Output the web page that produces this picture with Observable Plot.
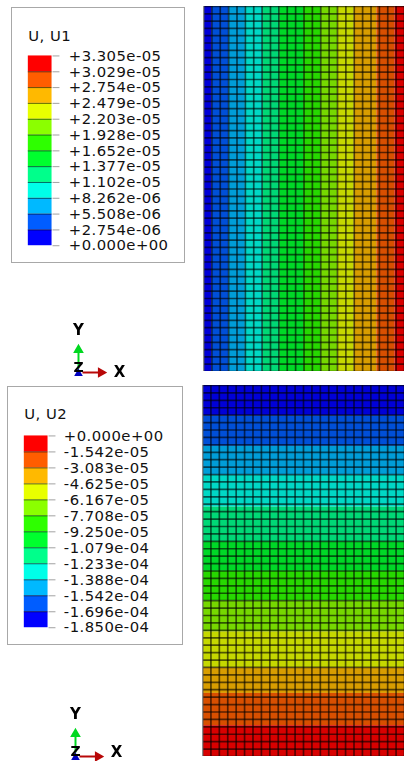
<!DOCTYPE html>
<html>
<head>
<meta charset="utf-8">
<script src="https://cdn.jsdelivr.net/npm/d3@7"></script>
<script src="https://cdn.jsdelivr.net/npm/@observablehq/plot@0.6"></script>
<style>
html,body{margin:0;padding:0;background:#fff;overflow:hidden}
#page{position:relative;width:404px;height:761px;overflow:hidden;filter:blur(0.4px)}
#page svg{position:absolute;display:block;max-width:none}
#page svg.legend text{letter-spacing:0.45px}
</style>
</head>
<body>
<div id="page"></div>
<script>
// contour palette, lowest level first
const legendColors = ["#0000ff","#005dff","#00b9ff","#00ffe8","#00ff8b","#00ff2e","#2eff00","#8bff00","#e8ff00","#ffb900","#ff5d00","#ff0000"];
const meshColors   = ["#0000d8","#004fd8","#009dd8","#00d8c5","#00d876","#00d827","#27d800","#76d800","#c5d800","#d89d00","#d84f00","#d80000"];

// U1 legend
const u1Values = [0,2.754e-6,5.508e-6,8.262e-6,1.102e-5,1.377e-5,1.652e-5,1.928e-5,2.203e-5,2.479e-5,2.754e-5,3.029e-5,3.305e-5];
const u1Labels = ["+0.000e+00","+2.754e-06","+5.508e-06","+8.262e-06","+1.102e-05","+1.377e-05","+1.652e-05","+1.928e-05","+2.203e-05","+2.479e-05","+2.754e-05","+3.029e-05","+3.305e-05"];
// U2 legend
const u2Values = [-1.850e-4,-1.696e-4,-1.542e-4,-1.388e-4,-1.233e-4,-1.079e-4,-9.250e-5,-7.708e-5,-6.167e-5,-4.625e-5,-3.083e-5,-1.542e-5,0];
const u2Labels = ["-1.850e-04","-1.696e-04","-1.542e-04","-1.388e-04","-1.233e-04","-1.079e-04","-9.250e-05","-7.708e-05","-6.167e-05","-4.625e-05","-3.083e-05","-1.542e-05","+0.000e+00"];

// contour band edges read off the meshes, in element units
const u1ColumnEdges = [0,1.03,3.02,5,7.1,9.1,11.95,14.05,16.03,18,20.7,22.86,24];
const u2RowEdges = [0,4.1,8.2,12.1,16.4,21.05,25.05,29.05,33.2,38.05,41.5,45.85,50];

const meshColumns = d3.range(0,25);
const meshRows = d3.range(0,51);

// triad
const triadAxes = ["X","Y"];
const triadColors = ["#b80808","#00d820"];

const font = "'DejaVu Sans', Verdana, sans-serif";

function place(svg, left, top){
  svg.style.left = left + "px";
  svg.style.top = top + "px";
  document.getElementById("page").appendChild(svg);
}

function mesh(bands, width, height){
  const cols = 24;
  const meshMarks = [
    Plot.rect(bands,{x1:"x1",x2:"x2",y1:"y1",y2:"y2",fill:"level"}),
    Plot.ruleX(meshColumns,{x:d=>d,stroke:"#000",strokeOpacity:0.6,strokeWidth:1.7}),
    Plot.ruleY(meshRows,{y:d=>d,stroke:"#000",strokeOpacity:0.6,strokeWidth:1.7}),
    Plot.ruleX([0],{stroke:"#8a8a8a",strokeWidth:1.5})
  ];
  return Plot.plot({
    width,height,margin:0,
    x:{domain:[0,cols],axis:null},
    y:{domain:[0,50],reverse:true,axis:null},
    color:{type:"ordinal",domain:d3.range(12),range:meshColors},
    marks:meshMarks
  });
}

function legend(title, values, labels, opts){
  const bands = d3.pairs(values).map(([a,b],i)=>({a,b,level:i}));
  const inner = values.slice(1,-1);
  const svg = Plot.plot({
    width:opts.width,height:opts.height,
    marginLeft:opts.left,marginTop:opts.top,marginBottom:opts.bottom,marginRight:opts.width-opts.left-24,
    x:{domain:[0,1],axis:null},
    y:{domain:d3.extent(values),axis:null},
    color:{type:"ordinal",domain:d3.range(12),range:legendColors},
    style:{fontFamily:font,border:"1px solid #a8a8a8",boxSizing:"border-box",background:"#fff",color:"#111"},
    marks:[
      Plot.rect(bands,{x1:0,x2:1,y1:"a",y2:"b",fill:"level"}),
      Plot.ruleY(inner,{y:d=>d,x1:0,x2:1,stroke:"#000",strokeOpacity:0.6}),
      Plot.axisY(values,{anchor:"right",tickSize:7,tickPadding:opts.pad,fontSize:15,strokeOpacity:0.4,
        tickFormat:v=>labels[values.indexOf(v)],label:null}),
      Plot.text([title],{frameAnchor:"top-left",dy:opts.titleDy,dx:opts.titleDx,fontSize:15,fill:"#111"})
    ]
  });
  svg.classList.add("legend");
  return svg;
}

function triad(xLabelY){
  const arrows = triadAxes.map((name,i)=>({name,color:triadColors[i],x2:name==="X"?1.25:0,y2:name==="Y"?1.25:0,rot:name==="X"?90:0}));
  const heads = arrows.map(d=>({...d,x2:d.x2*0.9,y2:d.y2*0.9}));
  return Plot.plot({
    width:78,height:55,margin:0,
    x:{domain:[-0.9,3],axis:null},
    y:{domain:[-0.25,2.5],axis:null},
    style:{fontFamily:font,background:"transparent",overflow:"visible"},
    marks:[
      Plot.link(arrows,{x1:()=>0.2*1,y1:()=>0,x2:"x2",y2:"y2",filter:d=>d.name==="X",stroke:"color",strokeWidth:2}),
      Plot.link(arrows,{x1:()=>0,y1:()=>0.2,x2:"x2",y2:"y2",filter:d=>d.name==="Y",stroke:"color",strokeWidth:2}),
      Plot.dot(heads,{x:"x2",y:"y2",symbol:"triangle",r:3,fill:"color",stroke:"color",rotate:"rot"}),
      Plot.dot([0],{x:()=>0,y:()=>-0.05,symbol:"triangle",r:3.2,fill:"#0000c0"}),
      Plot.text(["Z"],{x:()=>0,y:()=>0.25,fontSize:14,fontWeight:"700",fill:"#000"}),
      Plot.text(triadAxes,{x:d=>d==="X"?2.05:0,y:d=>d==="Y"?2.1:xLabelY,text:d=>d,fontSize:15,fontWeight:"600",fill:"#000"})
    ]
  });
}

const u1Bands = d3.pairs(u1ColumnEdges).map(([x1,x2],level)=>({x1,x2,y1:0,y2:50,level}));
const u2Bands = d3.pairs(u2RowEdges).map(([y1,y2],level)=>({x1:0,x2:24,y1,y2,level}));

place(mesh(u1Bands,201,365),203,6);
place(mesh(u2Bands,202,371),202,385);
place(legend("U, U1",u1Values,u1Labels,{width:174,height:257,left:16,top:48,bottom:17,pad:10,titleDy:-26,titleDx:0}),11,7);
place(legend("U, U2",u2Values,u2Labels,{width:176,height:260,left:16,top:49,bottom:17,pad:9,titleDy:-28,titleDx:0}),7,386);
place(triad(0),60,322);
place(triad(0.2),57,706);
</script>
</body>
</html>
